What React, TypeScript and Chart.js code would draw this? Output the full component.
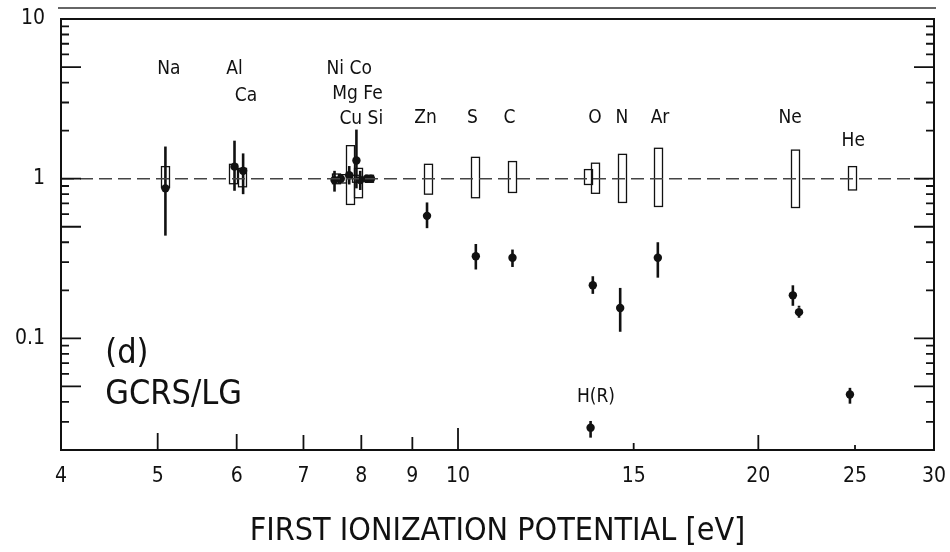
import React, { useEffect, useRef } from 'react';
import { Chart, registerables } from 'chart.js';

Chart.register(...registerables);

// ---- axes ----
const X_TICKS = [4, 5, 6, 7, 8, 9, 10, 15, 20, 25, 30];
const Y_LABEL_TICKS = [0.1, 1, 10];
const Y_MID_TICKS = [0.05, 0.5, 5];
const Y_MINOR_TICKS = [0.03, 0.04, 0.06, 0.07, 0.08, 0.09, 0.2, 0.3, 0.4, 0.6, 0.7, 0.8, 0.9, 2, 3, 4, 6, 7, 8, 9];
const REF_LEVEL = [1];

// ---- GCRS/LG ratios (filled dots with error bars) ----
const PT_NAMES = ['Na', 'Al', 'Ca', 'Ni', 'Mg', 'Cu', 'Fe', 'Co', 'Si', 'Si', 'Zn', 'S', 'C', 'O', 'H', 'N', 'Ar', 'Ne', 'Ne*', 'He'];
const PT_FIP = [5.09, 5.97, 6.09, 7.52, 7.63, 7.78, 7.91, 7.98, 8.1, 8.18, 9.31, 10.42, 11.34, 13.65, 13.58, 14.54, 15.86, 21.66, 21.97, 24.71];
const PT_VAL = [0.87, 1.19, 1.12, 0.98, 1.0, 1.05, 1.3, 0.98, 1.0, 1.0, 0.585, 0.327, 0.32, 0.215, 0.0276, 0.155, 0.32, 0.186, 0.146, 0.0445];
const PT_LO = [0.44, 0.84, 0.8, 0.83, 0.95, 0.92, 0.87, 0.85, 0.96, 0.96, 0.49, 0.27, 0.28, 0.19, 0.0239, 0.11, 0.24, 0.16, 0.13, 0.039];
const PT_HI = [1.59, 1.73, 1.44, 1.12, 1.06, 1.2, 2.03, 1.12, 1.04, 1.04, 0.71, 0.39, 0.36, 0.245, 0.0304, 0.207, 0.4, 0.215, 0.16, 0.049];
const PT_DOTTED = ['Ne*'];

// ---- LG uncertainty ranges (open boxes around 1) ----
const BOX_NAMES = ['Na', 'Al', 'Ca', 'Ni', 'Mg', 'Cu', 'Co', 'Fe', 'Si', 'Zn', 'S', 'C', 'H', 'O', 'N', 'Ar', 'Ne', 'He'];
const BOX_FIP = [5.09, 5.95, 6.08, 7.54, 7.65, 7.8, 7.93, 7.9, 8.14, 9.33, 10.4, 11.33, 13.49, 13.71, 14.6, 15.87, 21.77, 24.8];
const BOX_LO = [0.88, 0.93, 0.89, 0.93, 0.94, 0.69, 0.76, 0.95, 0.95, 0.8, 0.76, 0.82, 0.92, 0.81, 0.71, 0.67, 0.66, 0.85];
const BOX_HI = [1.19, 1.23, 1.16, 1.07, 1.06, 1.61, 1.16, 1.05, 1.05, 1.23, 1.36, 1.28, 1.14, 1.25, 1.42, 1.55, 1.51, 1.19];

// ---- element labels ----
const LABEL_TEXT = ['Na', 'Al', 'Ca', 'Ni Co', 'Mg Fe', 'Cu Si', 'Zn', 'S', 'C', 'O', 'N', 'Ar', 'Ne', 'He', 'H(R)'];
const LABEL_X = [5.13, 5.97, 6.13, 7.78, 7.93, 8.0, 9.28, 10.34, 11.26, 13.72, 14.6, 15.94, 21.52, 24.9, 13.75];
const LABEL_Y = [4.85, 4.85, 3.28, 4.85, 3.39, 2.37, 2.38, 2.38, 2.38, 2.38, 2.38, 2.38, 2.38, 1.71, 0.043];

const PANEL_TEXT = ['(d)', 'GCRS/LG'];
const PANEL_X = [4.43, 4.43];
const PANEL_Y = [0.0793, 0.0438];

const X_TITLE = 'FIRST IONIZATION POTENTIAL [eV]';

const FONT = '"DejaVu Sans Condensed", "DejaVu Sans", sans-serif';

const overlay = {
  id: 'overlay',
  beforeDatasetsDraw(chart: any) {
    const { ctx, scales } = chart;
    const x = scales.x;
    const y = scales.y;
    ctx.save();
    ctx.strokeStyle = '#111';
    ctx.lineWidth = 1.3;
    BOX_FIP.forEach((f, i) => {
      const cx = x.getPixelForValue(f);
      const top = y.getPixelForValue(BOX_HI[i]);
      const bot = y.getPixelForValue(BOX_LO[i]);
      ctx.strokeRect(Math.round(cx - 4) + 0.5, top, 8, bot - top);
    });
    ctx.lineWidth = 2.6;
    PT_FIP.forEach((f, i) => {
      const cx = x.getPixelForValue(f);
      const top = y.getPixelForValue(PT_HI[i]);
      const bot = y.getPixelForValue(PT_LO[i]);
      ctx.setLineDash(PT_DOTTED.includes(PT_NAMES[i]) ? [2, 3] : []);
      ctx.beginPath();
      ctx.moveTo(cx, top);
      ctx.lineTo(cx, bot);
      ctx.stroke();
    });
    ctx.setLineDash([]);
    ctx.restore();
  },
  afterDraw(chart: any) {
    const { ctx, scales, chartArea } = chart;
    const x = scales.x;
    const y = scales.y;
    const { left, right, top, bottom } = chartArea;
    ctx.save();
    ctx.strokeStyle = '#111';
    ctx.lineWidth = 2;
    ctx.strokeRect(left, top, right - left, bottom - top);

    // scan edge line above the frame
    ctx.lineWidth = 1.5;
    ctx.strokeStyle = '#333';
    ctx.beginPath();
    ctx.moveTo(left - 3, 8);
    ctx.lineTo(right + 2, 8);
    ctx.stroke();

    ctx.strokeStyle = '#111';
    ctx.lineWidth = 1.8;
    const yTick = (v: number, len: number) => {
      const py = y.getPixelForValue(v);
      ctx.beginPath();
      ctx.moveTo(left, py);
      ctx.lineTo(left + len, py);
      ctx.moveTo(right, py);
      ctx.lineTo(right - len, py);
      ctx.stroke();
    };
    Y_LABEL_TICKS.forEach((v) => yTick(v, 20));
    Y_MID_TICKS.forEach((v) => yTick(v, 20));
    Y_MINOR_TICKS.forEach((v) => yTick(v, 8));

    const xLen: Record<number, number> = { 5: 17, 6: 16, 7: 15, 8: 15, 9: 13, 10: 22, 15: 7, 20: 15, 25: 5 };
    X_TICKS.forEach((v) => {
      const len = xLen[v];
      if (!len) return;
      const px = x.getPixelForValue(v);
      ctx.beginPath();
      ctx.moveTo(px, bottom);
      ctx.lineTo(px, bottom - len);
      ctx.stroke();
    });

    ctx.fillStyle = '#111';
    ctx.font = `19px ${FONT}`;
    ctx.textAlign = 'center';
    ctx.textBaseline = 'middle';
    LABEL_TEXT.forEach((t, i) => {
      ctx.fillText(t, x.getPixelForValue(LABEL_X[i]), y.getPixelForValue(LABEL_Y[i]));
    });

    ctx.font = `34px ${FONT}`;
    ctx.textAlign = 'left';
    PANEL_TEXT.forEach((t, i) => {
      ctx.fillText(t, x.getPixelForValue(PANEL_X[i]), y.getPixelForValue(PANEL_Y[i]));
    });
    ctx.restore();
  },
};

export default function App() {
  const ref = useRef<HTMLCanvasElement | null>(null);
  useEffect(() => {
    if (!ref.current) return;
    const chart = new Chart(ref.current, {
      type: 'scatter',
      data: {
        datasets: [
          {
            type: 'line',
            data: [
              { x: X_TICKS[0], y: REF_LEVEL[0] },
              { x: X_TICKS[X_TICKS.length - 1], y: REF_LEVEL[0] },
            ],
            borderColor: '#444',
            borderWidth: 1.6,
            borderDash: [13, 6],
            pointRadius: 0,
            fill: false,
          } as any,
          {
            type: 'scatter',
            data: PT_FIP.map((f, i) => ({ x: f, y: PT_VAL[i] })),
            backgroundColor: '#111',
            borderColor: '#111',
            pointRadius: 4.2,
            pointBorderWidth: 0,
          },
        ],
      },
      options: {
        responsive: false,
        animation: false,
        layout: { padding: { left: 8, top: 19, right: 16, bottom: 0 } },
        plugins: {
          legend: { display: false },
          tooltip: { enabled: false },
        },
        scales: {
          x: {
            type: 'logarithmic',
            min: 4,
            max: 30,
            grid: { display: false, drawTicks: false },
            border: { display: false },
            afterBuildTicks: (s: any) => {
              s.ticks = X_TICKS.map((v) => ({ value: v }));
            },
            afterFit: (s: any) => {
              s.height = 102;
              s.paddingLeft = 0;
              s.paddingRight = 0;
            },
            ticks: {
              color: '#111',
              padding: 14,
              maxRotation: 0,
              autoSkip: false,
              font: { family: FONT, size: 21 },
              callback: (v: any) => String(v),
            },
            title: {
              display: true,
              text: X_TITLE,
              color: '#111',
              font: { family: FONT, size: 32 },
              padding: { top: 0, bottom: 1 },
            },
          },
          y: {
            type: 'logarithmic',
            min: 0.02,
            max: 10,
            grid: { display: false, drawTicks: false },
            border: { display: false },
            afterBuildTicks: (s: any) => {
              s.ticks = Y_LABEL_TICKS.map((v) => ({ value: v }));
            },
            afterFit: (s: any) => {
              s.width = 53;
              s.paddingTop = 0;
              s.paddingBottom = 0;
            },
            ticks: {
              color: '#111',
              padding: 16,
              autoSkip: false,
              font: { family: FONT, size: 21 },
              callback: (v: any) => String(v),
            },
          },
        },
      },
      plugins: [overlay],
    });
    return () => chart.destroy();
  }, []);
  return (
    <div style={{ position: 'absolute', left: 0, top: 0, width: 950, height: 552, background: '#fff' }}>
      <canvas ref={ref} width={950} height={552} />
    </div>
  );
}
